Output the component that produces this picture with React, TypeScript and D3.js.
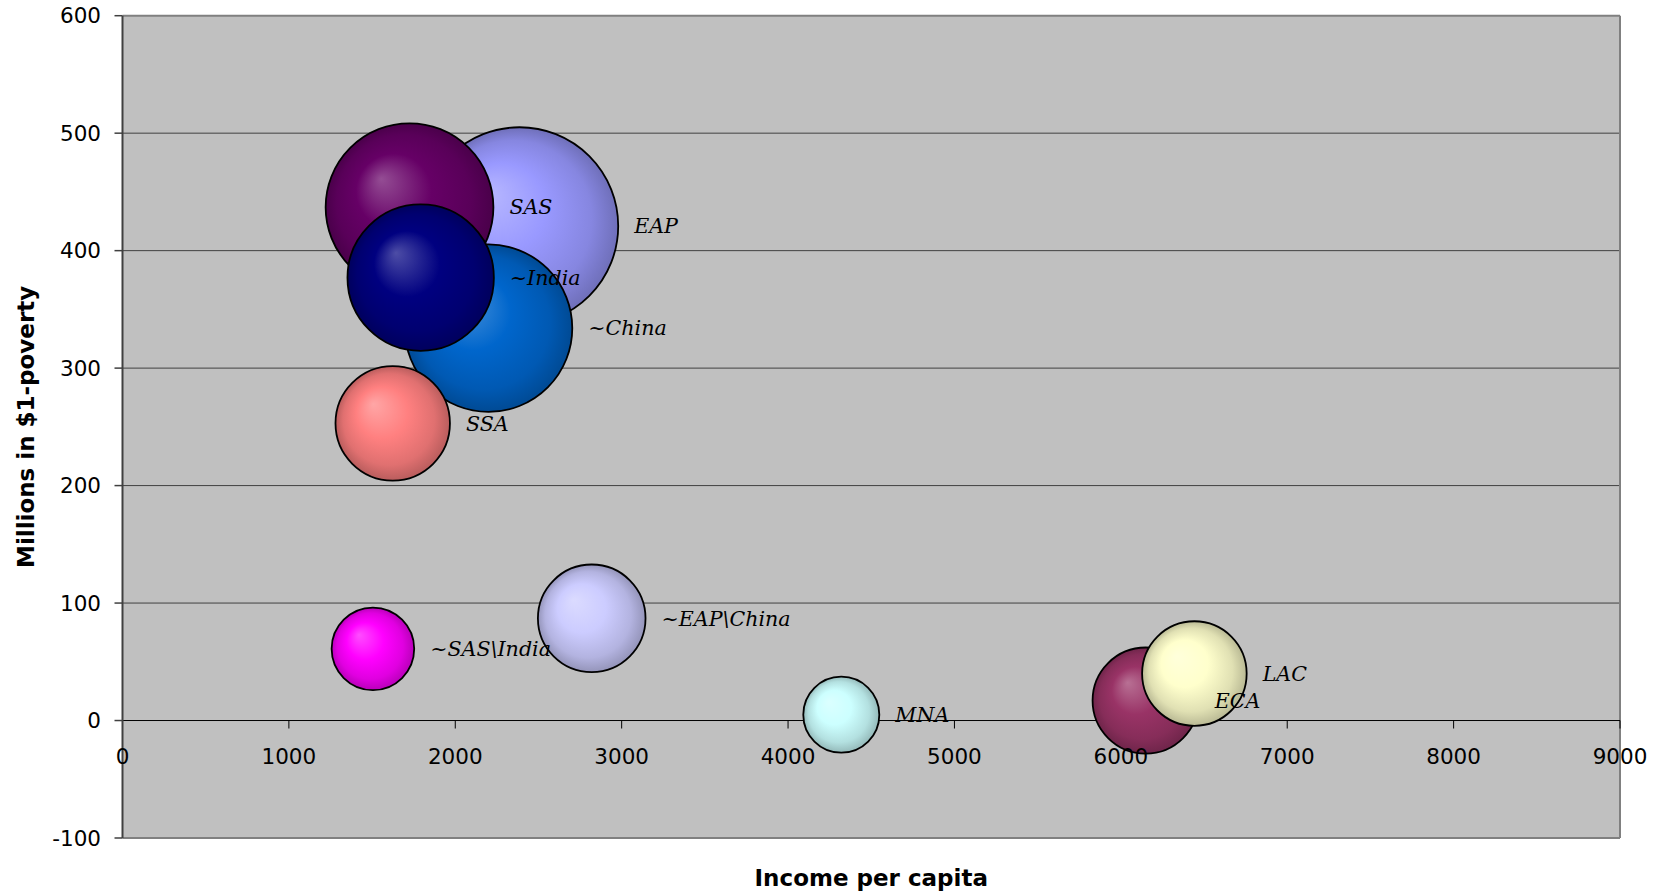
import React from "react";
import * as d3 from "d3";

const regions = ["EAP", "SAS", "~China", "~India", "SSA", "~EAP\\China", "ECA", "LAC", "~SAS\\India", "MNA"];
const incomePerCapita = [2386, 1725, 2200, 1792, 1624, 2820, 6149, 6442, 1505, 4320];
const millionsInPoverty = [421, 437, 334, 377, 253, 87, 17, 40, 61, 5];
const population = [1800, 1300, 1295, 990, 605, 535, 520, 505, 315, 267];
const colors = ["#9999FF", "#660066", "#0066CC", "#000080", "#FF8080", "#CCCCFF", "#993366", "#FFFFCC", "#FF00FF", "#CCFFFF"];

const xTicks = [0, 1000, 2000, 3000, 4000, 5000, 6000, 7000, 8000, 9000];
const yTicks = [-100, 0, 100, 200, 300, 400, 500, 600];

const W = 1661;
const H = 895;

export default function App() {
  const x = d3.scaleLinear().domain([0, 9000]).range([122.5, 1620]);
  const y = d3.scaleLinear().domain([-100, 600]).range([838, 15.7]);
  const r = d3.scaleSqrt().domain([0, 1800]).range([0, 98.7]);

  const data = regions.map((name, i) => ({
    name,
    x: incomePerCapita[i],
    y: millionsInPoverty[i],
    size: population[i],
    color: colors[i],
  }));

  const x0 = x(0), x1 = x(9000), yTop = y(600), yBot = y(-100);

  return (
    <svg width={W} height={H} style={{ position: "absolute", left: 0, top: 0, display: "block", background: "#fff" }}>
      <defs>
        {data.map((d, i) => {
          const light = d3.interpolateRgb(d.color, "#ffffff")(0.3);
          const dark = d3.rgb(d.color).darker(0.9).formatHex();
          return (
            <radialGradient key={i} id={`g${i}`} cx="0.5" cy="0.5" r="0.5" fx="0.33" fy="0.33">
              <stop offset="0" stopColor={light} />
              <stop offset="0.45" stopColor={d.color} />
              <stop offset="0.8" stopColor={d3.interpolateRgb(d.color, dark)(0.45)} />
              <stop offset="1" stopColor={dark} />
            </radialGradient>
          );
        })}
      </defs>

      <rect x={x0} y={yTop} width={x1 - x0} height={yBot - yTop} fill="#C0C0C0" />

      {yTicks.filter(t => t > -100 && t < 600 && t !== 0).map(t => (
        <line key={t} x1={x0} x2={x1} y1={y(t)} y2={y(t)} stroke="#404040" strokeWidth={1} />
      ))}

      {/* plot border */}
      <line x1={x0} x2={x1} y1={yTop} y2={yTop} stroke="#808080" strokeWidth={2} />
      <line x1={x1} x2={x1} y1={yTop} y2={yBot} stroke="#808080" strokeWidth={2} />
      <line x1={x0} x2={x1} y1={yBot} y2={yBot} stroke="#808080" strokeWidth={2} />

      {/* x axis at zero */}
      <line x1={x0} x2={x1} y1={y(0)} y2={y(0)} stroke="#000" strokeWidth={1} />
      {xTicks.map(t => (
        <line key={t} x1={x(t)} x2={x(t)} y1={y(0)} y2={y(0) + 8} stroke="#000" strokeWidth={1} />
      ))}

      {/* y axis */}
      <line x1={x0} x2={x0} y1={yTop} y2={yBot} stroke="#404040" strokeWidth={2} />
      {yTicks.map(t => (
        <line key={t} x1={x0 - 8} x2={x0} y1={y(t)} y2={y(t)} stroke="#404040" strokeWidth={1.5} />
      ))}

      {/* bubbles */}
      {data.map((d, i) => (
        <circle key={d.name} cx={x(d.x)} cy={y(d.y)} r={r(d.size)} fill={`url(#g${i})`} stroke="#000" strokeWidth={1.8} />
      ))}

      {/* labels */}
      {data.map(d => (
        <text key={d.name} x={x(d.x) + r(d.size) + 16} y={y(d.y)} dy="0.35em"
          fontFamily="'DejaVu Serif', serif" fontStyle="italic" fontSize={20.6} fill="#000">
          {d.name}
        </text>
      ))}

      {/* tick labels */}
      {yTicks.map(t => (
        <text key={t} x={101} y={y(t)} dy="0.36em" textAnchor="end"
          fontFamily="'DejaVu Sans', sans-serif" fontSize={21.5} fill="#000">{t}</text>
      ))}
      {xTicks.map(t => (
        <text key={t} x={x(t)} y={y(0) + 36} dy="0.36em" textAnchor="middle"
          fontFamily="'DejaVu Sans', sans-serif" fontSize={21.5} fill="#000">{t}</text>
      ))}

      {/* axis titles */}
      <text x={(x0 + x1) / 2} y={886} textAnchor="middle" fontFamily="'DejaVu Sans', sans-serif"
        fontWeight="bold" fontSize={23} fill="#000">Income per capita</text>
      <text transform={`translate(34, ${(yTop + yBot) / 2}) rotate(-90)`} textAnchor="middle"
        fontFamily="'DejaVu Sans', sans-serif" fontWeight="bold" fontSize={23} fill="#000">Millions in $1-poverty</text>
    </svg>
  );
}
